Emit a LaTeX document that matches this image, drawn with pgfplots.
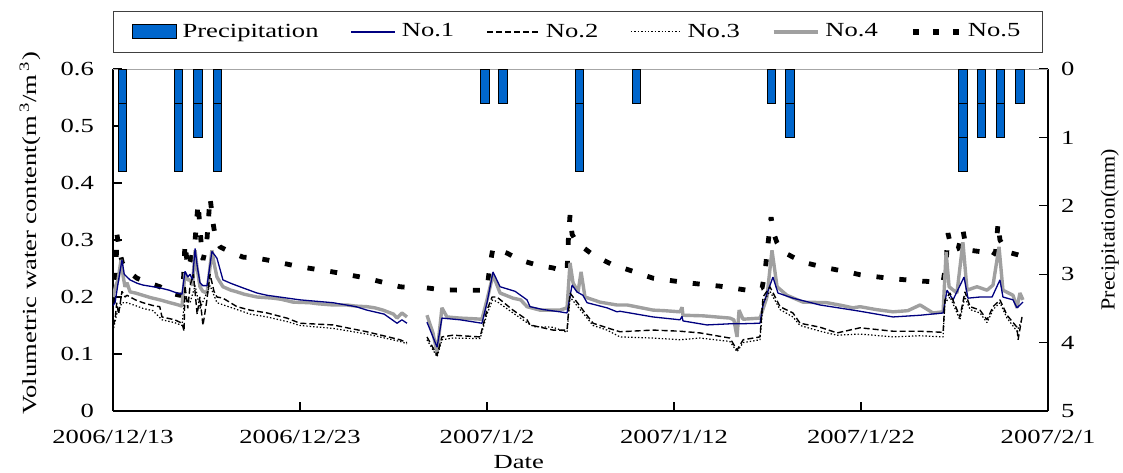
\documentclass[border=0pt]{standalone}
\usepackage{fontspec}
\setmainfont{Liberation Serif}[FakeStretch=1.33]
\newfontfamily\rfont{Liberation Serif}[FakeStretch=1.1]
\usepackage{pgfplots}
\pgfplotsset{compat=1.18}
\definecolor{precip}{RGB}{0,102,204}
\definecolor{navy1}{RGB}{0,0,128}
\definecolor{gray4}{RGB}{160,160,160}
\begin{document}
\begin{tikzpicture}
% soil water content, left axis
\begin{axis}[
    scale only axis,
    width=467.5pt, height=171pt,
    at={(0,0)}, anchor=south west,
    xmin=0, xmax=50, ymin=0, ymax=0.6,
    xtick={0,10,20,30,40,50},
    xticklabels={2006/12/13,2006/12/23,2007/1/2,2007/1/12,2007/1/22,2007/2/1},
    ytick={0,0.1,0.2,0.3,0.4,0.5,0.6},
    /pgf/number format/assume math mode=true,
    yticklabel style={/pgf/number format/fixed, /pgf/number format/precision=1, xshift=-6pt},
    xticklabel style={yshift=-6pt},
    axis x line*=bottom, axis y line*=left,
    axis line style={-, line width=0.6pt},
    tick align=inside, major tick length=4.5pt,
    tick style={black, line width=0.6pt},
    xlabel={Date},
    xlabel style={at={(axis description cs:0.434,-0.149)}, anchor=center},
    ylabel={Volumetric water content(m\,\textsuperscript{3}/m\,\textsuperscript{3})},
    ylabel style={at={(axis description cs:-0.0888,0.52)}, anchor=center},
    unbounded coords=jump,
    every axis plot/.append style={line join=bevel},
]
% No.5
\addplot[black, line width=2.4pt, dash pattern=on 3.5pt off 8pt] coordinates {
(0,0.19) (0.15,0.24) (0.21,0.31) (0.35,0.28) (0.5,0.26) (0.75,0.247) (1.28,0.233)
(1.82,0.226) (2.51,0.218) (3.05,0.207) (3.58,0.203) (3.74,0.205) (3.85,0.295) (4.0,0.25)
(4.2,0.27) (4.39,0.30) (4.55,0.365) (4.7,0.30) (4.81,0.265) (5.0,0.29) (5.19,0.375)
(5.35,0.33) (5.5,0.30) (5.72,0.288) (6.26,0.279) (6.95,0.27) (7.70,0.268) (8.24,0.265)
(10.0,0.253) (11.76,0.244) (13.58,0.233) (15.35,0.218) (15.72,0.217) (16.2,nan)
(16.79,0.216) (17.49,0.213) (18.5,0.212) (19.63,0.212) (20.0,0.214) (20.16,0.256)
(20.32,0.286) (21.07,0.277) (21.76,0.265) (22.67,0.256) (23.53,0.251) (24.28,0.244)
(24.35,0.30) (24.44,0.344) (24.55,0.31) (24.81,0.295) (25.67,0.274) (26.74,0.256)
(27.27,0.251) (28.88,0.233) (30.70,0.225) (32.46,0.219) (33.90,0.212) (34.71,0.216)
(34.87,0.244) (34.97,0.277) (35.19,0.34) (35.35,0.31) (35.51,0.295) (35.83,0.279)
(36.90,0.261) (38.18,0.251) (39.57,0.242) (39.95,0.239) (41.71,0.232) (43.16,0.228)
(44.39,0.226) (44.55,0.26) (44.65,0.312) (44.80,0.29) (44.92,0.282) (45.2,0.285)
(45.45,0.318) (45.6,0.29) (45.83,0.282) (46.52,0.279) (47.01,0.27) (47.2,0.28)
(47.33,0.33) (47.43,0.30) (47.81,0.279) (48.40,0.274) (48.6,0.272)
};
% No.4
\addplot[gray4, line width=1.7pt] coordinates {
(0,0.20) (0.15,0.22) (0.27,0.23) (0.43,0.265) (0.55,0.235) (0.64,0.218) (0.75,0.225)
(0.91,0.209) (1.2,0.207) (1.6,0.203) (2.0,0.199) (2.51,0.195) (3.05,0.19) (3.4,0.187)
(3.69,0.184) (3.85,0.242) (4.0,0.23) (4.12,0.23) (4.25,0.22) (4.39,0.282) (4.5,0.25)
(4.65,0.218) (4.8,0.21) (5.03,0.207) (5.29,0.282) (5.4,0.26) (5.56,0.235) (5.88,0.218)
(6.3,0.212) (6.63,0.209) (7.0,0.205) (7.70,0.20) (8.56,0.198) (9.0,0.196) (9.63,0.191)
(10.5,0.19) (11.0,0.188) (11.76,0.186) (12.5,0.186) (13.0,0.184) (13.58,0.183)
(14.0,0.181) (14.44,0.177) (15.0,0.17) (15.19,0.163) (15.45,0.172) (15.72,0.165)
(16.2,nan) (16.79,0.168) (17.11,0.137) (17.33,0.102) (17.59,0.181) (17.86,0.165)
(18.56,0.163) (19.2,0.162) (19.73,0.161) (20.0,0.195) (20.32,0.239) (20.70,0.207)
(21.39,0.198) (21.8,0.195) (22.14,0.183) (22.83,0.177) (23.90,0.177) (24.28,0.181)
(24.44,0.26) (24.60,0.225) (24.87,0.209) (25.03,0.244) (25.24,0.20) (26.04,0.191)
(26.95,0.186) (27.5,0.186) (28.88,0.177) (29.5,0.176) (30.32,0.174) (30.43,0.182)
(30.48,0.168) (31.55,0.167) (32.99,0.163) (33.2,0.16) (33.37,0.13) (33.48,0.177)
(33.69,0.161) (34.60,0.163) (34.97,0.20) (35.24,0.282) (35.51,0.218) (36.04,0.203)
(36.90,0.191) (38.18,0.19) (39.0,0.185) (39.57,0.181) (39.95,0.183) (40.8,0.178)
(41.71,0.174) (42.5,0.176) (43.16,0.186) (43.85,0.172) (44.39,0.174) (44.55,0.279)
(44.71,0.218) (45.13,0.207) (45.45,0.296) (45.67,0.212) (46.20,0.218) (46.74,0.212)
(47.06,0.221) (47.38,0.288) (47.59,0.212) (48.13,0.203) (48.34,0.181) (48.50,0.207)
(48.66,0.195)
};
% No.1
\addplot[navy1, line width=0.65pt] coordinates {
(0,0.185) (0.11,0.19) (0.3,0.23) (0.48,0.265) (0.6,0.24) (0.91,0.23) (1.3,0.224)
(1.6,0.221) (2.51,0.216) (3.0,0.212) (3.42,0.207) (3.69,0.205) (3.85,0.245) (4.0,0.235)
(4.12,0.24) (4.25,0.23) (4.39,0.285) (4.5,0.255) (4.65,0.225) (4.8,0.22) (5.03,0.22)
(5.29,0.28) (5.56,0.268) (5.88,0.23) (6.3,0.224) (6.95,0.216) (7.70,0.207) (8.24,0.203)
(10.0,0.195) (11.76,0.19) (13.0,0.183) (13.58,0.177) (14.5,0.17) (15.19,0.154)
(15.45,0.16) (15.72,0.154) (16.2,nan) (16.79,0.156) (17.33,0.112) (17.59,0.163)
(18.56,0.16) (19.73,0.154) (20.0,0.19) (20.32,0.244) (20.70,0.218) (21.5,0.21)
(22.14,0.195) (22.30,0.183) (23.0,0.178) (23.90,0.174) (24.28,0.172) (24.55,0.221)
(24.81,0.209) (25.13,0.203) (25.35,0.19) (26.42,0.181) (26.95,0.174) (27.11,0.175)
(28.88,0.165) (30.32,0.16) (30.43,0.166) (30.48,0.158) (31.76,0.151) (32.99,0.153)
(33.53,0.153) (34.60,0.154) (34.76,0.186) (35.29,0.235) (35.56,0.207) (36.36,0.198)
(37.81,0.186) (39.57,0.177) (39.95,0.175) (41.71,0.165) (43.16,0.168) (44.39,0.172)
(44.60,0.212) (44.92,0.195) (45.51,0.235) (45.72,0.198) (46.36,0.20) (47.01,0.20)
(47.43,0.23) (47.59,0.20) (48.13,0.195) (48.34,0.181) (48.66,0.191)
};
% No.2
\addplot[black, line width=0.7pt, dash pattern=on 3pt off 1.5pt] coordinates {
(0,0.15) (0.11,0.16) (0.2,0.19) (0.3,0.17) (0.48,0.21) (0.64,0.20) (0.75,0.203)
(1.2,0.195) (1.6,0.19) (2.14,0.185) (2.5,0.183) (2.62,0.165) (2.89,0.163) (3.3,0.16)
(3.69,0.154) (3.8,0.14) (3.85,0.22) (4.0,0.18) (4.12,0.22) (4.3,0.24) (4.5,0.17)
(4.65,0.20) (4.81,0.15) (5.0,0.19) (5.19,0.24) (5.4,0.21) (5.56,0.2) (5.88,0.198)
(6.63,0.183) (7.33,0.177) (8.24,0.172) (9.30,0.163) (10.0,0.154) (11.76,0.151)
(13.58,0.139) (15.35,0.125) (15.72,0.12) (16.2,nan) (16.79,0.13) (17.33,0.098)
(17.59,0.13) (18.18,0.133) (19.63,0.13) (20.0,0.177) (20.27,0.2) (20.53,0.2)
(21.39,0.177) (22.14,0.16) (22.30,0.151) (23.53,0.142) (24.28,0.142) (24.44,0.207)
(25.13,0.177) (25.67,0.154) (26.42,0.146) (27.11,0.139) (28.88,0.142) (30.32,0.14)
(31.39,0.137) (32.99,0.128) (33.37,0.107) (33.7,0.125) (34.60,0.13) (34.76,0.2)
(35.13,0.218) (35.67,0.183) (36.36,0.172) (36.74,0.154) (37.81,0.147) (38.72,0.137)
(39.95,0.146) (41.71,0.14) (43.16,0.14) (44.39,0.138) (44.49,0.195) (44.76,0.207)
(45.29,0.165) (45.56,0.209) (45.83,0.183) (46.36,0.177) (46.74,0.16) (47.06,0.183)
(47.43,0.195) (47.81,0.168) (48.34,0.147) (48.40,0.125) (48.61,0.165)
};
% No.3
\addplot[black, line width=0.6pt, dash pattern=on 0.7pt off 1pt] coordinates {
(0,0.14) (0.2,0.17) (0.48,0.19) (0.75,0.19) (1.2,0.185) (1.6,0.18) (2.14,0.176)
(2.62,0.16) (3.3,0.155) (3.69,0.15) (3.85,0.20) (4.12,0.19) (4.39,0.22) (4.65,0.18)
(5.19,0.22) (5.56,0.19) (6.0,0.185) (6.63,0.178) (7.33,0.17) (8.24,0.165) (9.30,0.157)
(10.0,0.15) (11.76,0.145) (13.58,0.135) (15.35,0.122) (15.72,0.118) (16.2,nan)
(16.79,0.125) (17.33,0.095) (17.59,0.125) (18.18,0.128) (19.63,0.127) (20.0,0.17)
(20.3,0.195) (20.53,0.192) (21.39,0.172) (22.14,0.155) (22.5,0.148) (23.53,0.147)
(24.28,0.138) (24.44,0.2) (25.13,0.172) (25.67,0.15) (26.42,0.142) (27.11,0.13)
(28.88,0.128) (30.32,0.125) (31.39,0.128) (32.99,0.122) (33.37,0.104) (33.7,0.12)
(34.60,0.125) (34.76,0.19) (35.13,0.21) (35.67,0.178) (36.36,0.165) (36.74,0.15)
(37.81,0.14) (38.72,0.133) (39.95,0.135) (41.71,0.13) (43.16,0.132) (44.39,0.13)
(44.49,0.19) (44.76,0.2) (45.29,0.16) (45.56,0.2) (45.83,0.178) (46.36,0.172)
(46.74,0.155) (47.06,0.178) (47.43,0.19) (47.81,0.163) (48.34,0.14) (48.61,0.16)
};
\end{axis}
% precipitation, right axis (reversed)
\begin{axis}[
    scale only axis,
    width=467.5pt, height=171pt,
    at={(0,0)}, anchor=south west,
    xmin=0, xmax=50, ymin=0, ymax=5, y dir=reverse,
    ytick={0,1,2,3,4,5},
    /pgf/number format/assume math mode=true,
    yticklabel style={xshift=3pt},
    axis y line*=right, axis x line=none,
    axis line style={-, line width=0.6pt},
    tick align=inside, major tick length=4.5pt,
    tick style={black, line width=0.6pt},
    ylabel={\rfont Precipitation(mm)},
    ylabel style={at={(axis description cs:1.066,0.53)}, anchor=center},
    ybar stacked, bar width=0.45,
    legend columns=6,
    legend style={at={(0,1)}, anchor=south west, yshift=8pt,
        draw=black!75, line width=0.6pt, inner xsep=9pt, inner ysep=4.2pt,
        /tikz/every even column/.append style={column sep=14pt},
        /tikz/every odd column/.append style={column sep=1pt}},
    legend cell align=left,
]
\addplot[forget plot, fill=precip, draw=black, line width=0.5pt] coordinates {
(0.5,0.5) (3.5,0.5) (4.55,0.5) (5.6,0.5) (19.9,0.5) (20.85,0.5) (24.95,0.5)
(28.0,0.5) (35.2,0.5) (36.2,0.5) (45.45,0.5) (46.45,0.5) (47.45,0.5) (48.5,0.5)
};
\addplot[forget plot, fill=precip, draw=black, line width=0.5pt] coordinates {
(0.5,1.0) (3.5,1.0) (4.55,0.5) (5.6,1.0) (19.9,0) (20.85,0) (24.95,1.0)
(28.0,0) (35.2,0) (36.2,0.5) (45.45,0.5) (46.45,0.5) (47.45,0.5) (48.5,0)
};
\addplot[forget plot, fill=precip, draw=black, line width=0.5pt] coordinates {
(0.5,0) (3.5,0) (4.55,0) (5.6,0) (19.9,0) (20.85,0) (24.95,0)
(28.0,0) (35.2,0) (36.2,0) (45.45,0.5) (46.45,0) (47.45,0) (48.5,0)
};
\draw[gray!70, line width=0.6pt] (rel axis cs:0,1) -- (rel axis cs:1,1);
\addlegendimage{legend image code/.code={\draw[fill=precip, draw=black, line width=0.5pt] (0pt,-3.5pt) rectangle (22pt,3.5pt);}}
\addlegendentry{Precipitation}
\addlegendimage{legend image code/.code={\draw[navy1, line width=0.65pt] (0pt,0pt) -- (22pt,0pt);}}
\addlegendentry{No.1}
\addlegendimage{legend image code/.code={\draw[black, line width=0.8pt, dash pattern=on 3pt off 1.5pt] (0pt,0pt) -- (26pt,0pt);}}
\addlegendentry{No.2}
\addlegendimage{legend image code/.code={\draw[black, line width=0.6pt, dash pattern=on 0.7pt off 1pt] (0pt,0pt) -- (25pt,0pt);}}
\addlegendentry{No.3}
\addlegendimage{legend image code/.code={\draw[gray4, line width=1.7pt] (0pt,0pt) -- (22pt,0pt);}}
\addlegendentry{No.4}
\addlegendimage{legend image code/.code={\draw[black, line width=3pt, dash pattern=on 3pt off 7pt] (0pt,0pt) -- (23pt,0pt);}}
\addlegendentry{No.5}
\end{axis}
\pgfresetboundingbox
\path[use as bounding box] (-56.5pt,-30.5pt) rectangle (505pt,205.5pt);
\end{tikzpicture}
\end{document}
